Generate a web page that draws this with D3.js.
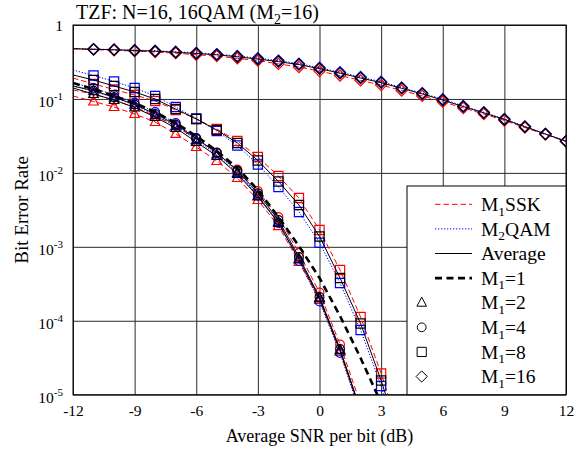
<!DOCTYPE html>
<html><head><meta charset="utf-8">
<script src="https://cdn.jsdelivr.net/npm/d3@7"></script>
<style>
body{margin:0;background:#fff}
svg{display:block}
text{font-family:"Liberation Serif","Times New Roman",serif;fill:#000}
</style>
</head><body>
<svg id="c" width="587" height="451"></svg>
<script>
// ---------------- data ----------------
const snrDb = [-12,-11,-10,-9,-8,-7,-6,-5,-4,-3,-2,-1,0,1,2,3,4,5,6,7,8,9,10,11,12];
const xTicks = [-12,-9,-6,-3,0,3,6,9,12];
const yTicks = [1e-5,1e-4,1e-3,1e-2,1e-1,1];
const yTickExp = [-5,-4,-3,-2,-1,0];

// M1 = 16 (diamonds)
const ber16Ssk = [0.476,0.466,0.455,0.444,0.431,0.416,0.396,0.38,0.354,0.33,0.298,0.27,0.238,0.207,0.178,0.154,0.13,0.11,0.0915,0.0755,0.0625,0.0512,0.041,0.033,0.0266];
const ber16Qam = [0.479,0.472,0.466,0.457,0.448,0.435,0.42,0.404,0.382,0.356,0.33,0.3,0.265,0.23,0.198,0.171,0.143,0.12,0.099,0.0805,0.066,0.0536,0.0425,0.0337,0.0269];
const ber16Avg = [0.478,0.47,0.462,0.452,0.442,0.428,0.412,0.395,0.372,0.346,0.32,0.291,0.257,0.223,0.192,0.166,0.139,0.117,0.0965,0.0788,0.0648,0.0528,0.042,0.0335,0.0268];
// M1 = 8 (squares), -12..4 dB
const ber8Ssk = [0.1919,0.1592,0.1341,0.1130,0.0938,0.0709,0.0536,0.0392,0.0270,0.0164,0.00908,0.00457,0.00169,0.000486,0.0001125,0.00001936,0.00000268];
const ber8Qam = [0.2462,0.2075,0.1722,0.1406,0.1096,0.0778,0.0544,0.0368,0.02346,0.01298,0.00644,0.00296,0.001137,0.000324,0.000075,0.00001311,0.00000168];
const ber8Avg = [0.2108,0.1804,0.1496,0.1241,0.0998,0.0731,0.0536,0.0380,0.02536,0.01471,0.00765,0.00368,0.00138,0.000379,0.0000918,0.00001557,0.00000209];
// M1 = 4 (circles), -12..2 dB
const ber4Ssk = [0.1321,0.1166,0.0953,0.0778,0.0588,0.0431,0.0287,0.01887,0.01111,0.00569,0.00253,0.000825,0.000241,0.0000478,0.00000749];
const ber4Qam = [0.1643,0.1406,0.1130,0.0895,0.0666,0.0473,0.0296,0.01858,0.01044,0.00494,0.0021,0.000643,0.000182,0.0000366,0.00000532];
const ber4Avg = [0.1496,0.1293,0.1052,0.0841,0.0626,0.0451,0.0292,0.01875,0.01077,0.00530,0.002306,0.000729,0.0002097,0.0000415,0.0000062];
// M1 = 2 (triangles), -12..2 dB
const ber2Ssk = [0.1096,0.0923,0.0778,0.0626,0.0488,0.0336,0.0224,0.01448,0.00853,0.0043,0.00191,0.000623,0.000191,0.0000378,0.00000584];
const ber2Qam = [0.1496,0.1281,0.1046,0.0828,0.0606,0.0431,0.0278,0.01773,0.00996,0.00494,0.002166,0.000684,0.000203,0.0000402,0.0000062];
const ber2Avg = [0.1406,0.1166,0.0968,0.0766,0.0570,0.0405,0.02617,0.01692,0.00966,0.00479,0.0021,0.000674,0.0002,0.0000396,0.00000602];
// M1 = 1 (average only), -12..3 dB
const ber1Avg = [0.1643,0.1363,0.1096,0.0881,0.0666,0.0473,0.0315,0.01977,0.01164,0.00587,0.00253,0.001026,0.000379,0.000116,0.0000314,0.00000772];

const titleText = ["TZF: N=16, 16QAM (M", "2", "=16)"];
const xLabel = "Average SNR per bit (dB)";
const yLabel = "Bit Error Rate";
const legendItems = [
  {main:"M", sub:"1", rest:"SSK", kind:"ssk"},
  {main:"M", sub:"2", rest:"QAM", kind:"qam"},
  {main:"Average", sub:"", rest:"", kind:"avg"},
  {main:"M", sub:"1", rest:"=1", kind:"m1"},
  {main:"M", sub:"1", rest:"=2", kind:"tri"},
  {main:"M", sub:"1", rest:"=4", kind:"circ"},
  {main:"M", sub:"1", rest:"=8", kind:"sq"},
  {main:"M", sub:"1", rest:"=16", kind:"dia"}
];

// ---------------- chart ----------------
const svg = d3.select("#c");
const L=73, R=566, T=25, B=394.7;
const x = d3.scaleLinear().domain([-12,12]).range([L,R]);
const y = d3.scaleLog().domain([1e-5,1]).range([B,T]);

const styles = {
  ssk:{stroke:"#ff0000", dash:"5.5,3", w:1},
  qam:{stroke:"#0000ff", dash:"1.3,1.7", w:1},
  avg:{stroke:"#000", dash:null, w:1},
  m1:{stroke:"#000", dash:"7,4.5", w:2.6}
};

function markerPath(kind){
  const p = d3.path();
  if(kind==="tri"){ p.moveTo(0,-5.5); p.lineTo(4.8,3.5); p.lineTo(-4.8,3.5); p.closePath(); }
  else if(kind==="circ"){ p.arc(0,0,4.4,0,2*Math.PI); }
  else if(kind==="sq"){ p.rect(-4.6,-4.6,9.2,9.2); }
  else if(kind==="dia"){ p.moveTo(0,-5.6); p.lineTo(5.6,0); p.lineTo(0,5.6); p.lineTo(-5.6,0); p.closePath(); }
  return p.toString();
}

svg.append("defs").append("clipPath").attr("id","clip")
  .append("rect").attr("x",L).attr("y",T).attr("width",R-L).attr("height",B-T);

// grid
svg.append("g").attr("transform",`translate(0,${B})`)
  .call(d3.axisBottom(x).tickValues(xTicks).tickSize(-(B-T)).tickFormat(""))
  .call(g=>{g.select(".domain").remove(); g.selectAll("line").attr("stroke","#2a2a2a").attr("stroke-width",1);});
svg.append("g").attr("transform",`translate(${L},0)`)
  .call(d3.axisLeft(y).tickValues(yTicks).tickSize(-(R-L)).tickFormat(""))
  .call(g=>{g.select(".domain").remove(); g.selectAll("line").attr("stroke","#2a2a2a").attr("stroke-width",1);});

// series
const groups = [
  {kind:"tri", ssk:ber2Ssk, qam:ber2Qam, avg:ber2Avg},
  {kind:"circ", ssk:ber4Ssk, qam:ber4Qam, avg:ber4Avg},
  {kind:"sq", ssk:ber8Ssk, qam:ber8Qam, avg:ber8Avg},
  {kind:"dia", ssk:ber16Ssk, qam:ber16Qam, avg:ber16Avg}
];
const line = d3.line().x(d=>x(d[0])).y(d=>y(d[1]));
const plot = svg.append("g").attr("clip-path","url(#clip)");

function drawSeries(vals, st, marker){
  const pts = vals.map((v,i)=>[snrDb[i], v]);
  plot.append("path").datum(pts).attr("d",line).attr("fill","none")
    .attr("stroke",st.stroke).attr("stroke-width",st.w)
    .attr("stroke-dasharray",st.dash);
  if(marker){
    plot.append("g").selectAll("path").data(pts.slice(1)).join("path")
      .attr("d",markerPath(marker))
      .attr("transform",d=>`translate(${x(d[0])},${y(d[1])})`)
      .attr("fill","none").attr("stroke",st.stroke).attr("stroke-width",1.2);
  }
}
["ssk","qam","avg"].forEach(k=>{
  groups.forEach(g=>drawSeries(g[k], styles[k], g.kind));
});
drawSeries(ber1Avg, styles.m1, null);

// border
svg.append("rect").attr("x",L).attr("y",T).attr("width",R-L).attr("height",B-T)
  .attr("fill","none").attr("stroke","#000").attr("stroke-width",1);

// x axis labels
const xa = svg.append("g").attr("transform",`translate(0,${B})`)
  .call(d3.axisBottom(x).tickValues(xTicks).tickSize(0).tickPadding(0).tickFormat(d=>d));
xa.select(".domain").remove();
xa.selectAll("text").attr("y",21.5).attr("dy",null)
  .style("font-size","15.5px").style("font-family",'"Liberation Serif",serif');

// y axis labels
const ya = svg.append("g").attr("transform",`translate(${L},0)`)
  .call(d3.axisLeft(y).tickValues(yTicks).tickSize(0).tickPadding(10).tickFormat(""));
ya.select(".domain").remove();
ya.selectAll(".tick text").each(function(d,i){
  const t = d3.select(this).attr("dy",null).attr("x",-10)
    .style("font-size","15.5px").style("font-family",'"Liberation Serif",serif');
  const e = yTickExp[i];
  if(e===0){ t.attr("y",5.5).text("1"); }
  else {
    t.attr("y",8);
    t.append("tspan").text("10");
    t.append("tspan").attr("dy",-7).style("font-size","11px").text(String(e));
  }
});

// title
const tt = svg.append("text").attr("x",76).attr("y",19).style("font-size","20px");
tt.append("tspan").text(titleText[0]);
tt.append("tspan").attr("dy",5).style("font-size","14px").text(titleText[1]);
tt.append("tspan").attr("dy",-5).text(titleText[2]);

// axis titles
svg.append("text").attr("x",(L+R)/2).attr("y",442).attr("text-anchor","middle")
  .style("font-size","18px").text(xLabel);
svg.append("text").attr("transform",`translate(28,${(T+B)/2}) rotate(-90)`)
  .attr("text-anchor","middle").style("font-size","19px").text(yLabel);

// legend
const lg = svg.append("g");
lg.append("rect").attr("x",407).attr("y",186).attr("width",R-407).attr("height",B-186)
  .attr("fill","#fff").attr("stroke","#000").attr("stroke-width",1);
legendItems.forEach((it,i)=>{
  const base = 211 + i*24.6;
  const cy = base - 6.7;
  if(styles[it.kind]){
    const st = styles[it.kind];
    lg.append("line").attr("x1",435).attr("x2",472).attr("y1",cy).attr("y2",cy)
      .attr("stroke",st.stroke).attr("stroke-width",st.w).attr("stroke-dasharray",st.dash);
  } else {
    lg.append("path").attr("d",markerPath(it.kind)).attr("transform",`translate(421.7,${cy})`)
      .attr("fill","none").attr("stroke","#000").attr("stroke-width",1);
  }
  const t = lg.append("text").attr("x",481).attr("y",base).style("font-size","19.5px");
  t.append("tspan").text(it.main);
  if(it.sub){
    t.append("tspan").attr("dy",4.5).style("font-size","13.5px").text(it.sub);
    t.append("tspan").attr("dy",-4.5).text(it.rest);
  }
});
</script>
</body></html>
